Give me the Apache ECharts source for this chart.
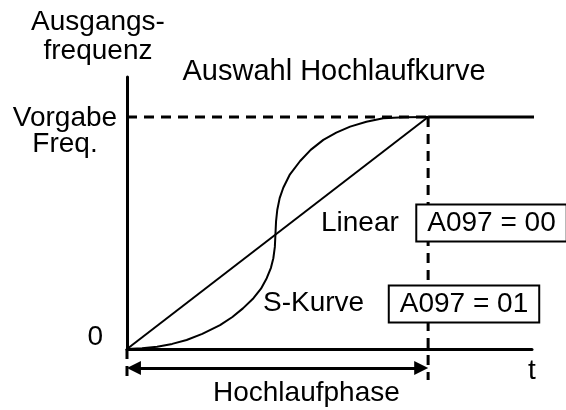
<!DOCTYPE html>
<html>
<head>
  <meta charset="UTF-8">
  <style>
    body { margin: 0; background: #fff; }
  </style>
  <script src="https://cdn.jsdelivr.net/npm/echarts@6/dist/echarts.min.js"></script>
</head>
<body>
  <div id="chart" style="width: 566px; height:410px;"></div>
  <script>
    // time in % of Hochlaufphase, frequency in % of Vorgabe
    const linearX = [0, 100]
    const linearY = [0, 100]
    const sCurveX = [0, 5, 10, 15, 19.8, 25, 30.9, 35, 38.5, 42, 44.5, 46.4, 47.8, 48.6, 49.1, 49.3,
                     49.5, 49.9, 50.7, 51.9, 54, 57.5, 61, 65.2, 69.5, 74.1, 79.5, 85.1, 92, 100]
    const sCurveY = [0, 0.3, 1, 2.2, 3.9, 6.5, 10.3, 13.8, 17.5, 21.9, 26, 30.5, 35, 39.1, 44, 49.5,
                     55, 59.9, 65, 69.5, 75, 81, 85.8, 90.1, 93.2, 95.8, 97.9, 99.4, 99.9, 100]
    const plateauX = [100, 135.5]
    const plateauY = [100, 100]
    const phaseStart = 0
    const phaseEnd = 100
    const setpoint = 100

    const pairs = (xs, ys) => xs.map((x, i) => [x, ys[i]])
    const font = '28px "Liberation Sans", Arial, sans-serif'
    const black = '#000'
    const dash = [10, 7]

    const myChart = echarts.init(document.getElementById('chart'))

    const boxStyle = {
      font: font, fill: black, align: 'center', verticalAlign: 'middle', lineHeight: 28,
      backgroundColor: '#fff', borderColor: black, borderWidth: 2, padding: [4, 10, 3, 10]
    }

    const options = {
      animation: false,
      backgroundColor: '#fff',
      grid: { left: 127, right: 34, top: 77, bottom: 61 },
      xAxis: {
        type: 'value', min: 0, max: 134.5,
        axisLine: { lineStyle: { color: black, width: 3 } },
        axisTick: { show: false }, axisLabel: { show: false }, splitLine: { show: false }
      },
      yAxis: {
        type: 'value', min: 0, max: 117.2,
        axisLine: { show: true, lineStyle: { color: black, width: 3 } },
        axisTick: { show: false }, axisLabel: { show: false }, splitLine: { show: false }
      },
      series: [
        {
          name: 'Vorgabe', type: 'line', showSymbol: false, clip: false,
          lineStyle: { color: black, width: 3, type: dash },
          data: [[phaseStart, setpoint], [phaseEnd, setpoint]]
        },
        {
          name: 'Ende', type: 'line', showSymbol: false, clip: false,
          lineStyle: { color: black, width: 3, type: dash },
          data: [[phaseEnd, setpoint], [phaseEnd, -13.4]]
        },
        {
          name: 'Start', type: 'line', showSymbol: false, clip: false,
          lineStyle: { color: black, width: 3, type: dash },
          data: [[phaseStart, 0], [phaseStart, -13.4]]
        },
        {
          name: 'Linear', type: 'line', showSymbol: false,
          lineStyle: { color: black, width: 2 },
          data: pairs(linearX, linearY)
        },
        {
          name: 'S-Kurve', type: 'line', showSymbol: false,
          lineStyle: { color: black, width: 2 },
          data: pairs(sCurveX, sCurveY)
        },
        {
          name: 'Plateau', type: 'line', showSymbol: false, clip: false,
          lineStyle: { color: black, width: 3 },
          data: pairs(plateauX, plateauY)
        },
        {
          name: 'Hochlaufphase', type: 'lines', coordinateSystem: 'cartesian2d', clip: false,
          symbol: ['triangle', 'triangle'], symbolSize: 14,
          lineStyle: { color: black, width: 3, opacity: 1 },
          itemStyle: { color: black },
          data: [{ coords: [[phaseStart + 2.3, -8.2], [phaseEnd - 2.3, -8.2]] }]
        }
      ],
      graphic: [
        { type: 'text', x: 98, y: 8, style: { text: 'Ausgangs-\nfrequenz', font: font, fill: black, align: 'center', verticalAlign: 'top', lineHeight: 29 } },
        { type: 'text', x: 334, y: 72, style: { text: 'Auswahl Hochlaufkurve', font: '29px "Liberation Sans", Arial, sans-serif', fill: black, align: 'center', verticalAlign: 'middle' } },
        { type: 'text', x: 65, y: 105, style: { text: 'Vorgabe\nFreq.', font: font, fill: black, align: 'center', verticalAlign: 'top', lineHeight: 26 } },
        { type: 'text', x: 103, y: 337, style: { text: '0', font: font, fill: black, align: 'right', verticalAlign: 'middle' } },
        { type: 'text', x: 321, y: 223, style: { text: 'Linear', font: font, fill: black, align: 'left', verticalAlign: 'middle' } },
        { type: 'text', x: 491.5, y: 223, z: 100, style: Object.assign({ text: 'A097 = 00' }, boxStyle) },
        { type: 'text', x: 263, y: 303, style: { text: 'S-Kurve', font: font, fill: black, align: 'left', verticalAlign: 'middle' } },
        { type: 'text', x: 464, y: 304, z: 100, style: Object.assign({ text: 'A097 = 01' }, boxStyle) },
        { type: 'text', x: 532, y: 371, style: { text: 't', font: font, fill: black, align: 'center', verticalAlign: 'middle' } },
        { type: 'text', x: 213, y: 393, style: { text: 'Hochlaufphase', font: font, fill: black, align: 'left', verticalAlign: 'middle' } }
      ]
    }

    myChart.setOption(options)
  </script>
</body>
</html>
